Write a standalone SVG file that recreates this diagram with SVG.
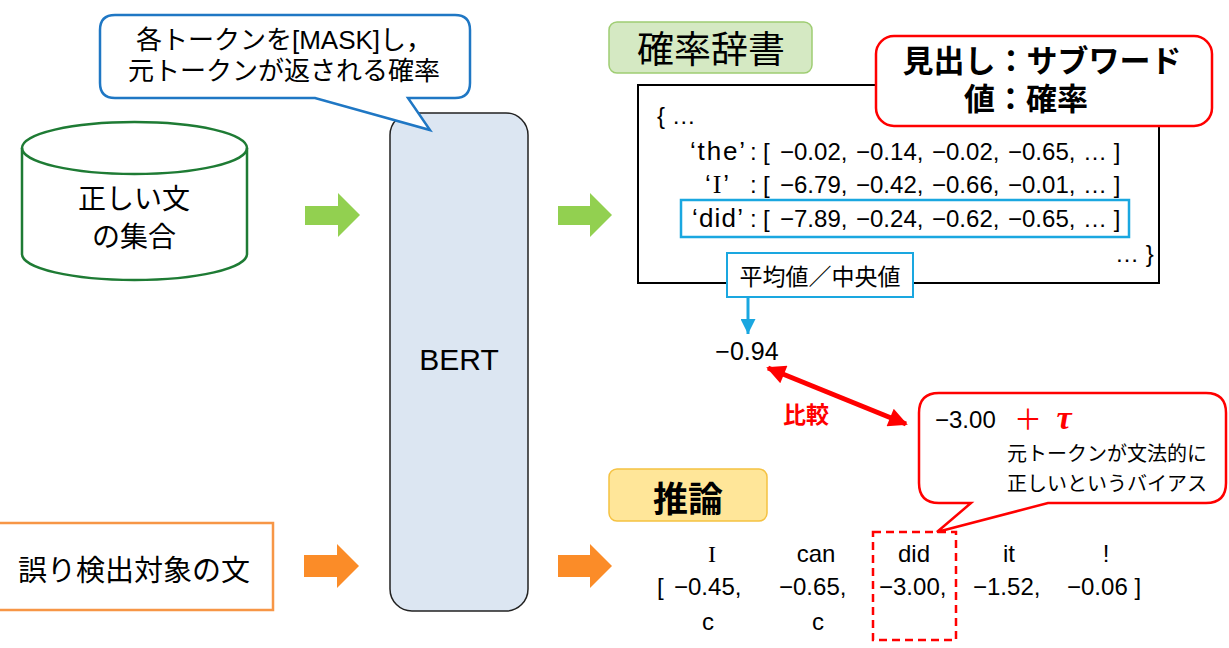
<svg xmlns="http://www.w3.org/2000/svg" width="1229" height="648" viewBox="0 0 1229 648">
<defs>
<style>
text{font-family:"Liberation Sans","Noto Sans CJK JP",sans-serif;fill:#000}
.serif{font-family:"Liberation Serif","Noto Sans CJK JP",serif}
.gArrow{fill:#92d050}
.oArrow{fill:#fb8c28}
.red{fill:#ff0000}
.dict{font-size:24px}
.key{font-size:26px}
.tok{font-size:24px;text-anchor:middle}
</style>
<marker id="blueHead" viewBox="0 0 10 10" refX="10" refY="5" markerWidth="5" markerHeight="5" orient="auto" markerUnits="strokeWidth">
<path d="M0,0 L10,5 L0,10 Z" fill="#1aa7e0"/>
</marker>
<marker id="redHead" viewBox="0 0 10 10" refX="9" refY="5" markerWidth="4" markerHeight="3.8" orient="auto-start-reverse" markerUnits="strokeWidth">
<path d="M0,0 L10,5 L0,10 Z" fill="#ff0000"/>
</marker>
</defs>
<rect width="1229" height="648" fill="#ffffff"/>

<g id="connectors">
<polygon class="gArrow" points="305,206 338,206 338,193 360,215 338,237 338,225 305,225"/>
<polygon class="gArrow" points="558,206 590,206 590,193 612,215 590,237 590,225 558,225"/>
<polygon class="oArrow" points="304,555 337,555 337,544 359,566 337,588 337,577 304,577"/>
<polygon class="oArrow" points="558,555 590,555 590,544 612,566 590,588 590,577 558,577"/>
<line x1="748" y1="237" x2="748" y2="334" stroke="#1aa7e0" stroke-width="3" marker-end="url(#blueHead)"/>
<line x1="768" y1="368" x2="906" y2="424" stroke="#ff0000" stroke-width="5" marker-start="url(#redHead)" marker-end="url(#redHead)"/>
</g>

<g id="bert">
<rect x="390" y="113" width="138" height="498" rx="22" fill="#dce6f2" stroke="#222222" stroke-width="1.5"/>
<text x="459" y="370" font-size="30" text-anchor="middle">BERT</text>
</g>

<g id="callout-mask">
<path d="M115,15 H455 Q470,15 470,30 V83 Q470,98 455,98 H408 L430,130 L315,98 H115 Q100,98 100,83 V30 Q100,15 115,15 Z" fill="#ffffff" stroke="#1f77c4" stroke-width="2.5"/>
<text x="284" y="49" font-size="26" text-anchor="middle">各トークンを[MASK]し，</text>
<text x="284" y="80" font-size="26" text-anchor="middle">元トークンが返される確率</text>
</g>

<g id="corpus">
<path d="M22,148 A112.5,26 0 0 1 247,148 L247,254 A112.5,26 0 0 1 22,254 Z" fill="#ffffff" stroke="#1e7b34" stroke-width="2.5"/>
<path d="M22,148 A112.5,26 0 0 0 247,148" fill="none" stroke="#1e7b34" stroke-width="2.5"/>
<text x="134" y="209" font-size="28" text-anchor="middle">正しい文</text>
<text x="134" y="247" font-size="28" text-anchor="middle">の集合</text>
</g>

<g id="target">
<rect x="-2" y="523" width="275" height="87" fill="#ffffff" stroke="#f79646" stroke-width="2.5"/>
<text x="134" y="581" font-size="29" text-anchor="middle">誤り検出対象の文</text>
</g>

<g id="label-dict">
<rect x="609" y="22" width="203" height="51" rx="8" fill="#d5e9c3" stroke="#9fcd73" stroke-width="1.5"/>
<text x="711" y="63" font-size="37" text-anchor="middle">確率辞書</text>
</g>

<g id="dictionary">
<rect x="638" y="85" width="521" height="198" fill="#ffffff" stroke="#000000" stroke-width="2"/>
<text class="dict" x="657" y="124">{ …</text>
<text class="key" x="690" y="160" textLength="55" lengthAdjust="spacing">‘the’</text>
<text class="key" x="705" y="193" textLength="24" lengthAdjust="spacing">‘<tspan class="serif">I</tspan>’</text>
<text class="key" x="692" y="227" textLength="51" lengthAdjust="spacing">‘did’</text>
<text class="dict" x="750" y="160">:</text>
<text class="dict" x="750" y="193">:</text>
<text class="dict" x="750" y="227">:</text>
<text class="dict" x="763" y="160">[</text>
<text class="dict" x="763" y="193">[</text>
<text class="dict" x="763" y="227">[</text>
<text class="dict" x="780" y="160">−0.02,</text>
<text class="dict" x="856" y="160">−0.14,</text>
<text class="dict" x="932" y="160">−0.02,</text>
<text class="dict" x="1008" y="160">−0.65,</text>
<text class="dict" x="1083" y="160">… ]</text>
<text class="dict" x="780" y="193">−6.79,</text>
<text class="dict" x="856" y="193">−0.42,</text>
<text class="dict" x="932" y="193">−0.66,</text>
<text class="dict" x="1008" y="193">−0.01,</text>
<text class="dict" x="1083" y="193">… ]</text>
<text class="dict" x="780" y="227">−7.89,</text>
<text class="dict" x="856" y="227">−0.24,</text>
<text class="dict" x="932" y="227">−0.62,</text>
<text class="dict" x="1008" y="227">−0.65,</text>
<text class="dict" x="1083" y="227">… ]</text>
<text class="dict" x="1115" y="262">… }</text>
<rect x="681" y="200" width="448" height="37" fill="none" stroke="#1aa7e0" stroke-width="2.5"/>
</g>

<g id="callout-key">
<rect x="876" y="36" width="336" height="90" rx="18" fill="#ffffff" stroke="#ff0000" stroke-width="2.5"/>
<text x="1042" y="72" font-size="31" font-weight="bold" text-anchor="middle">見出し：サブワード</text>
<text x="1026" y="110" font-size="31" font-weight="bold" text-anchor="middle">値：確率</text>
</g>

<g id="label-stat">
<rect x="727" y="253" width="186" height="44" fill="#ffffff" stroke="#1aa7e0" stroke-width="2"/>
<text x="820" y="285" font-size="23" text-anchor="middle">平均値／中央値</text>
</g>

<g id="value-mean">
<text x="747" y="360" font-size="25" text-anchor="middle">−0.94</text>
</g>

<g id="label-compare">
<text class="red" x="806" y="423" font-size="23" font-weight="bold" text-anchor="middle">比較</text>
</g>

<g id="callout-bias">
<path d="M939,393 H1206 Q1226,393 1226,413 V483 Q1226,503 1206,503 H1048 L937,532 L971,503 H939 Q919,503 919,483 V413 Q919,393 939,393 Z" fill="#ffffff" stroke="#ff0000" stroke-width="2.5"/>
<text x="935" y="428" font-size="24">−3.00</text>
<text class="red" x="1028" y="430" font-size="28" text-anchor="middle">＋</text>
<text class="red serif" x="1064" y="429" font-size="34" font-weight="bold" font-style="italic" text-anchor="middle">τ</text>
<text x="1007" y="461" font-size="20">元トークンが文法的に</text>
<text x="1007" y="491" font-size="20">正しいというバイアス</text>
</g>

<g id="label-infer">
<rect x="609" y="469" width="158" height="52" rx="8" fill="#ffe699" stroke="#f5c242" stroke-width="1.5"/>
<text x="688" y="512" font-size="35" font-weight="bold" text-anchor="middle">推論</text>
</g>

<g id="inference">
<text class="tok serif" x="712" y="562">I</text>
<text class="tok" x="816" y="562">can</text>
<text class="tok" x="914" y="562">did</text>
<text class="tok" x="1009" y="562">it</text>
<text class="tok" x="1106" y="562">!</text>
<text class="dict" x="657" y="595">[</text>
<text class="dict" x="674" y="595">−0.45,</text>
<text class="dict" x="779" y="595">−0.65,</text>
<text class="dict" x="879" y="595">−3.00,</text>
<text class="dict" x="973" y="595">−1.52,</text>
<text class="dict" x="1067" y="595">−0.06 ]</text>
<text class="tok" x="708" y="630">c</text>
<text class="tok" x="818" y="630">c</text>
<rect x="873" y="532" width="83" height="108" fill="none" stroke="#ff0000" stroke-width="2.5" stroke-dasharray="8,5"/>
</g>
</svg>
